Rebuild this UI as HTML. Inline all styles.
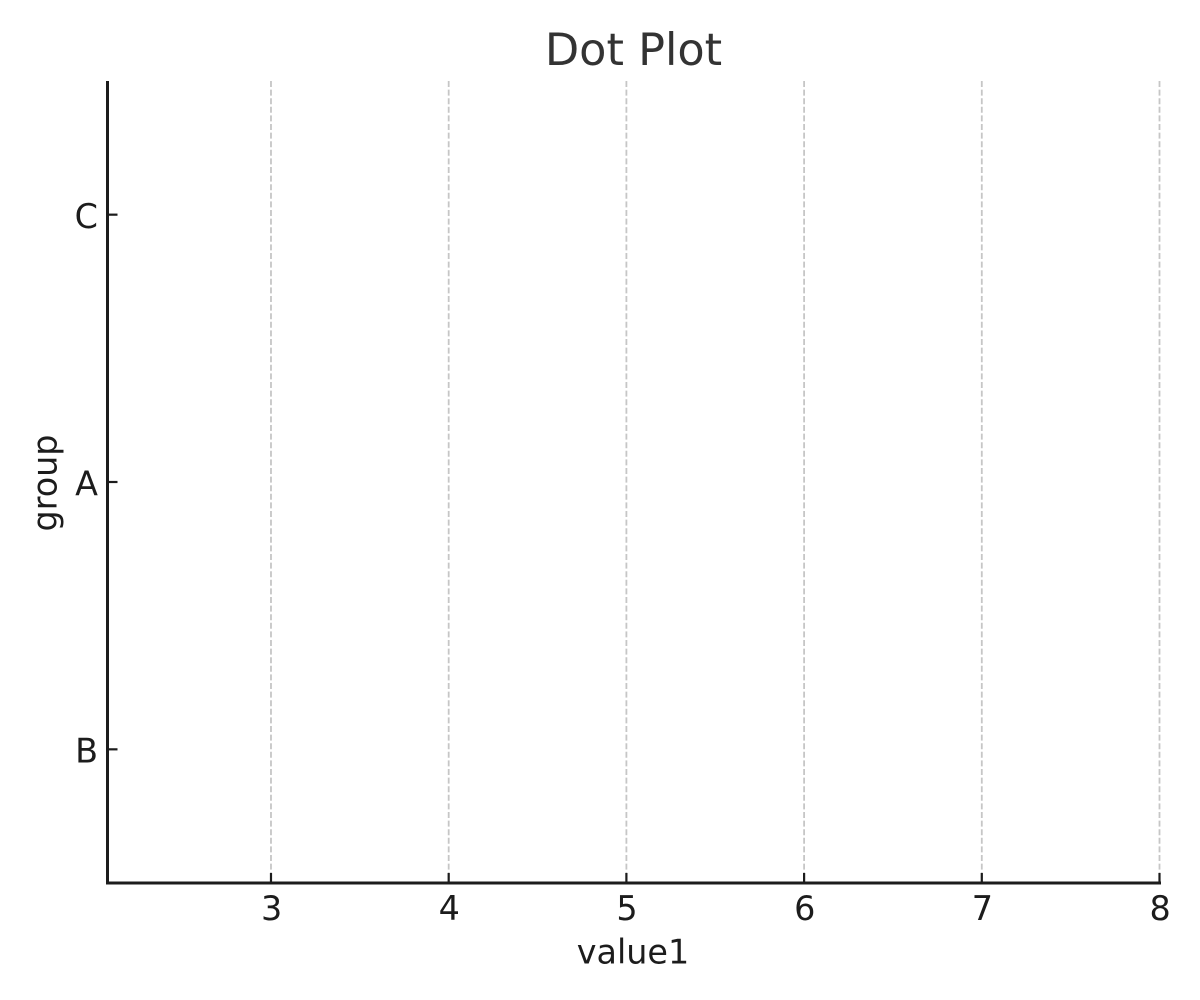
<!DOCTYPE html>
<html lang="en">
<head>
<meta charset="utf-8">
<title>Dot Plot</title>
<style>
html,body{margin:0;padding:0;background:#fff;width:1200px;height:1000px;overflow:hidden}
svg{display:block}
text{font-family:"DejaVu Sans","Liberation Sans",sans-serif}
</style>
</head>
<body>
<svg id="chart" xmlns="http://www.w3.org/2000/svg" width="1200" height="1000" viewBox="0 0 1200 1000"></svg>
<script>
const categories = ['B', 'A', 'C'];
// No dots are visible in the reference, so each group has no plotted value.
const value1 = [null, null, null];
const xTickLabels = [3, 4, 5, 6, 7, 8];
const chartTitle = 'Dot Plot';
const xAxisTitle = 'value1';
const yAxisTitle = 'group';

const svg = document.getElementById('chart');
const NS = 'http://www.w3.org/2000/svg';
const plot = { left: 107.5, right: 1159.5, top: 81, bottom: 883 };
const xDomain = [2.08, 8];
const yDomain = [-0.5, 2.5];
const ink = '#1c1c1c';

function xScale(v) {
  return plot.left + (v - xDomain[0]) / (xDomain[1] - xDomain[0]) * (plot.right - plot.left);
}
function yScale(i) {
  return plot.bottom - (i - yDomain[0]) / (yDomain[1] - yDomain[0]) * (plot.bottom - plot.top);
}
function make(tag, attrs, text) {
  const el = document.createElementNS(NS, tag);
  Object.keys(attrs).forEach(function (k) { el.setAttribute(k, attrs[k]); });
  if (text !== undefined) el.textContent = text;
  svg.appendChild(el);
  return el;
}

xTickLabels.forEach(function (t) {
  const x = xScale(t);
  const grid = make('line', { x1: x, x2: x, y1: plot.top, y2: plot.bottom, stroke: '#c6c6c6', 'stroke-width': 1.8, 'stroke-dasharray': '6 2.6' });
  
  
  const tick = make('line', { x1: x, x2: x, y1: plot.bottom - 10, y2: plot.bottom, stroke: ink, 'stroke-width': 2.2 });
  
  
  const label = make('text', { x: x + 0.6, y: 920, 'text-anchor': 'middle', 'font-size': 33.4, fill: ink }, t);
  
  
});

categories.forEach(function (c, i) {
  const y = yScale(i);
  const tick = make('line', { x1: plot.left, x2: plot.left + 10, y1: y, y2: y, stroke: ink, 'stroke-width': 2.2 });
  
  
  const label = make('text', { x: 98, y: y + 13.3, 'text-anchor': 'end', 'font-size': 33.4, fill: ink }, c);
  
  
});

value1.forEach(function (v, i) {
  if (v === null) return;
  const dot = make('circle', { cx: xScale(v), cy: yScale(i), r: 10, fill: '#1f77b4' });
  
  
});

const ySpine = make('line', { x1: plot.left, x2: plot.left, y1: plot.top, y2: plot.bottom + 1.5, stroke: ink, 'stroke-width': 3 });


const xSpine = make('line', { x1: plot.left, x2: plot.right + 1.5, y1: plot.bottom, y2: plot.bottom, stroke: ink, 'stroke-width': 3 });



const title = make('text', { x: 633.5, y: 65, 'text-anchor': 'middle', 'font-size': 44.6, fill: '#333333' }, chartTitle);


const xTitle = make('text', { x: 633, y: 963.5, 'text-anchor': 'middle', 'font-size': 33.4, fill: ink }, xAxisTitle);


const yTitle = make('text', { x: 0, y: 0, transform: 'translate(56.5,483) rotate(-90)', 'text-anchor': 'middle', 'font-size': 33.4, fill: ink }, yAxisTitle);


</script>
</body>
</html>
